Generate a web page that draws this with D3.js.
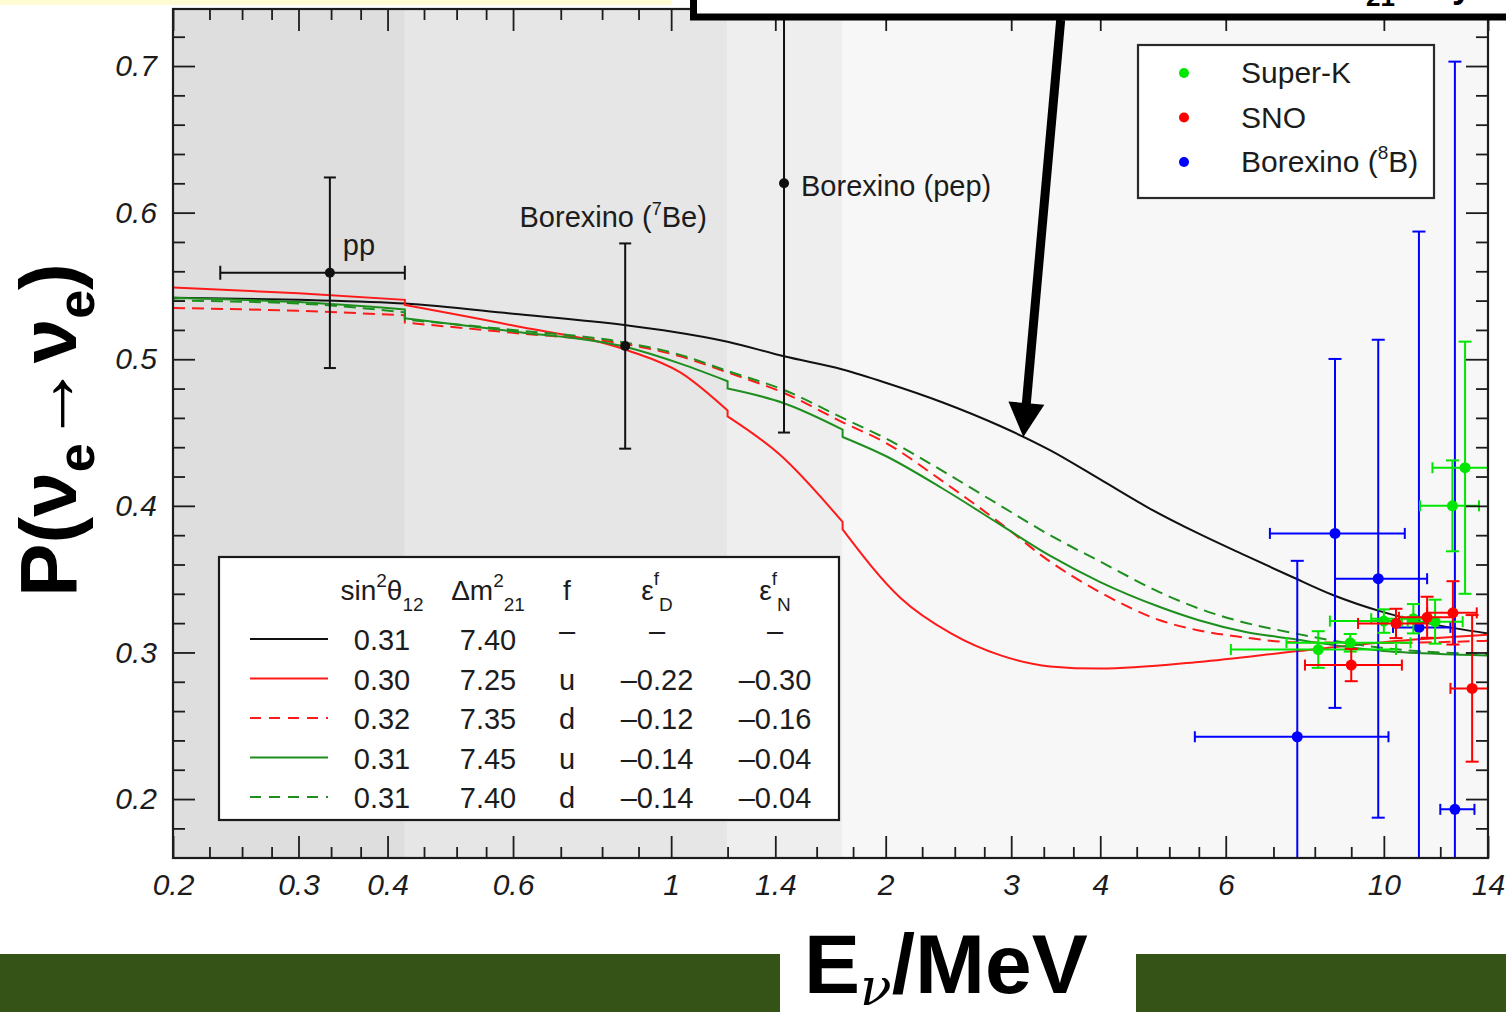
<!DOCTYPE html>
<html>
<head>
<meta charset="utf-8">
<script src="https://cdn.jsdelivr.net/npm/d3@7"></script>
<style>
  html, body { margin: 0; padding: 0; background: #ffffff; }
  svg { display: block; font-family: "Liberation Sans", Arial, Helvetica, sans-serif; }
</style>
</head>
<body>
<svg id="chart" width="1506" height="1012"></svg>
<script>
// ---------------- data ----------------
// solar-neutrino energy regions (MeV) and their shading
const bandEdges = [0.2, 0.423, 1.2, 1.74, 14];
const bandFills = ["#dedede", "#e6e6e6", "#eeeeee", "#f7f7f7"];

// axis ticks
const xMajorTicks = [0.2, 0.3, 0.4, 0.6, 1, 1.4, 2, 3, 4, 6, 10, 14];
const xMinorTicks = [0.225, 0.25, 0.275, 0.3333, 0.3667, 0.45, 0.5, 0.55, 0.7, 0.8, 0.9,
                     1.2, 1.6, 1.8, 2.25, 2.5, 2.75, 3.333, 3.667, 4.5, 5, 5.5, 7, 8, 9, 12];
const yMajorTicks = [0.2, 0.3, 0.4, 0.5, 0.6, 0.7];
const yMinorTicks = [0.18, 0.22, 0.24, 0.26, 0.28, 0.32, 0.34, 0.36, 0.38, 0.42, 0.44, 0.46,
                     0.48, 0.52, 0.54, 0.56, 0.58, 0.62, 0.64, 0.66, 0.68, 0.72];

// survival probability curves [E (MeV), P]; a repeated E marks a step
const curveStandard = [[0.2,0.542],[0.3,0.5405],[0.423,0.538],[0.6,0.531],[0.87,0.523],[1.0,0.519],
  [1.2,0.512],[1.44,0.502],[1.74,0.493],[2.0,0.484],[2.4,0.4707],[2.9,0.4543],[3.4,0.438],[4.0,0.418],
  [4.7,0.398],[5.5,0.381],[6.4,0.366],[7.4,0.352],[8.5,0.339],[9.9,0.328],[11.5,0.320],[14,0.313]];
const curveUpSolid = [[0.2,0.549],[0.3,0.545],[0.423,0.5405],[0.423,0.537],[0.6,0.523],[0.87,0.506],
  [1.03,0.491],[1.2,0.465],[1.2,0.461],[1.42,0.435],[1.74,0.389],[1.74,0.384],[2.1,0.337],[2.47,0.313],
  [2.9,0.298],[3.4,0.2905],[4.0,0.289],[5.5,0.2935],[7.6,0.301],[10,0.307],[14,0.312]];
const curveDownRed = [[0.2,0.535],[0.3,0.533],[0.423,0.530],[0.423,0.525],[0.6,0.518],[0.87,0.510],
  [1.03,0.502],[1.2,0.491],[1.44,0.477],[1.74,0.457],[2.0,0.443],[2.4,0.417],[2.9,0.388],[3.4,0.362],
  [4.0,0.341],[4.85,0.322],[5.5,0.315],[6.2,0.311],[7.5,0.307],[10,0.3065],[14,0.308]];
const curveUpGreen = [[0.2,0.542],[0.3,0.539],[0.423,0.534],[0.423,0.528],[0.6,0.519],[0.87,0.508],
  [1.03,0.497],[1.2,0.485],[1.2,0.480],[1.44,0.470],[1.74,0.452],[1.74,0.447],[2.0,0.434],[2.4,0.412],
  [2.9,0.387],[3.4,0.366],[4.0,0.348],[4.85,0.331],[5.5,0.322],[6.4,0.314],[7.5,0.309],[8.5,0.305],
  [10,0.301],[12,0.299],[14,0.298]];
const curveDownGreen = [[0.2,0.540],[0.3,0.538],[0.423,0.532],[0.423,0.527],[0.6,0.520],[0.87,0.511],
  [1.03,0.503],[1.2,0.492],[1.44,0.479],[1.74,0.460],[2.0,0.446],[2.4,0.424],[2.9,0.400],[3.4,0.380],
  [4.0,0.362],[4.85,0.341],[5.5,0.330],[6.2,0.322],[7.5,0.313],[8.5,0.308],[10,0.303],[12,0.300],[14,0.299]];

// low-energy measurements: E, P, E range, P error
const borexinoLow = [
  { name: "pp",  E: 0.332, P: 0.559, Elo: 0.233, Ehi: 0.423, err: 0.065 },
  { name: "7Be", E: 0.862, P: 0.509, Elo: null,  Ehi: null,  err: 0.070 },
  { name: "pep", E: 1.44,  P: 0.620, Elo: null,  Ehi: null,  err: 0.170 }
];
// high-energy 8B measurements: [E, P, Elo, Ehi, Perr]
const superK = [[8.09,0.302,6.1,10.4,0.0125],[8.97,0.3066,7.3,10.9,0.006],[10.0,0.3214,8.4,10.6,0.008],
  [11.0,0.323,9.6,11.6,0.010],[11.8,0.321,10.8,12.9,0.015],[12.48,0.400,11.24,13.6,0.031],
  [13.0,0.426,11.7,15,0.086]];
const sno = [[9.0,0.2914,7.75,10.6,0.011],[10.4,0.3198,9.2,11.5,0.010],[11.5,0.324,10.5,12.5,0.014],
  [12.5,0.327,11.5,13.5,0.0216],[13.3,0.2755,12.4,15,0.050]];
const borexino8B = [[7.56,0.2425,5.43,10.15,0.120],[8.54,0.3812,6.92,10.7,0.119],
  [9.82,0.3503,8.54,11.5,0.163],[11.2,0.3171,10.3,12.4,0.270],[12.58,0.193,12.0,13.4,0.510]];

// fit-parameter table
const rowSin2  = ["0.31", "0.30", "0.32", "0.31", "0.31"];
const rowDm2   = ["7.40", "7.25", "7.35", "7.45", "7.40"];
const rowF     = ["–", "u", "d", "u", "d"];
const rowEpsD  = ["–", "–0.22", "–0.12", "–0.14", "–0.14"];
const rowEpsN  = ["–", "–0.30", "–0.16", "–0.04", "–0.04"];

const legendNames = ["Super-K", "SNO", "Borexino"];

// ---------------- layout ----------------
const svg = d3.select("#chart");
const plot = { left: 173, right: 1488, top: 9, bottom: 858 };
const x = d3.scaleLog().domain([0.2, 14]).range([plot.left, plot.right]);
const y = d3.scaleLinear().domain([0.1598, 0.7389]).range([plot.bottom, plot.top]);

const INK = "#1c1c1c";
const curveStyles = [
  { data: curveStandard,  color: "#111111", dash: null },
  { data: curveUpSolid,   color: "#ff1a1a", dash: null },
  { data: curveDownRed,   color: "#ff1a1a", dash: "12,7" },
  { data: curveUpGreen,   color: "#1e8f1e", dash: null },
  { data: curveDownGreen, color: "#1e8f1e", dash: "12,7" }
];

// page decorations
svg.append("rect").attr("x", 0).attr("y", 0).attr("width", 1506).attr("height", 1012).attr("fill", "#ffffff");
svg.append("rect").attr("x", 0).attr("y", 0).attr("width", 672).attr("height", 5).attr("fill", "#fffbd2");
svg.append("rect").attr("x", 0).attr("y", 954).attr("width", 780).attr("height", 58).attr("fill", "#355316");
svg.append("rect").attr("x", 1136).attr("y", 954).attr("width", 370).attr("height", 58).attr("fill", "#355316");

const defs = svg.append("defs");
defs.append("clipPath").attr("id", "plotClip").append("rect")
  .attr("x", plot.left).attr("y", plot.top)
  .attr("width", plot.right - plot.left).attr("height", plot.bottom - plot.top);

// shaded energy regions
svg.append("g").selectAll("rect").data(d3.pairs(bandEdges)).join("rect")
  .attr("x", d => x(d[0])).attr("y", plot.top)
  .attr("width", d => x(d[1]) - x(d[0])).attr("height", plot.bottom - plot.top)
  .attr("fill", (d, i) => bandFills[i]);

// curves: each step-free run is smoothed, runs are joined by vertical steps
const line = d3.line().x(d => x(d[0])).y(d => y(d[1])).curve(d3.curveMonotoneX);
function steppedPath(pts) {
  const runs = [[pts[0]]];
  for (let i = 1; i < pts.length; i++) {
    if (pts[i][0] === pts[i - 1][0]) runs.push([pts[i]]);
    else runs[runs.length - 1].push(pts[i]);
  }
  return runs.map((r, i) => { const d = line(r); return i ? d.replace(/^M/, "L") : d; }).join("");
}
const gCurves = svg.append("g").attr("clip-path", "url(#plotClip)");
curveStyles.forEach(c => {
  gCurves.append("path").attr("d", steppedPath(c.data))
    .attr("fill", "none").attr("stroke", c.color).attr("stroke-width", 2)
    .attr("stroke-dasharray", c.dash);
});

// error bars
const gData = svg.append("g").attr("clip-path", "url(#plotClip)");
function errorBar(g, E, P, Elo, Ehi, err, color, capV, capH, r) {
  const cx = x(E), cy = y(P);
  const b = g.append("g").attr("stroke", color).attr("stroke-width", 2).attr("fill", "none");
  const yt = y(P + err), yb = y(P - err);
  b.append("line").attr("x1", cx).attr("x2", cx).attr("y1", yt).attr("y2", yb);
  b.append("line").attr("x1", cx - capV).attr("x2", cx + capV).attr("y1", yt).attr("y2", yt);
  b.append("line").attr("x1", cx - capV).attr("x2", cx + capV).attr("y1", yb).attr("y2", yb);
  if (Elo != null) {
    const xl = x(Elo), xr = x(Ehi);
    b.append("line").attr("x1", xl).attr("x2", xr).attr("y1", cy).attr("y2", cy);
    b.append("line").attr("x1", xl).attr("x2", xl).attr("y1", cy - capH).attr("y2", cy + capH);
    b.append("line").attr("x1", xr).attr("x2", xr).attr("y1", cy - capH).attr("y2", cy + capH);
  }
  g.append("circle").attr("cx", cx).attr("cy", cy).attr("r", r).attr("fill", color);
}
borexinoLow.forEach(d => errorBar(gData, d.E, d.P, d.Elo, d.Ehi, d.err, "#111111", 6, 7, 5));
borexino8B.forEach(d => errorBar(gData, d[0], d[1], d[2], d[3], d[4], "#0000ff", 6.5, 5.5, 5.5));
superK.forEach(d => errorBar(gData, d[0], d[1], d[2], d[3], d[4], "#00e600", 6.5, 5.5, 5.5));
sno.forEach(d => errorBar(gData, d[0], d[1], d[2], d[3], d[4], "#ff0000", 6.5, 5.5, 5.5));

// labels of the low-energy points
const labelFont = 29;
const pp = borexinoLow[0], be7 = borexinoLow[1], pep = borexinoLow[2];
svg.append("text").attr("x", x(pp.E) + 13).attr("y", y(pp.P) - 18)
  .attr("font-size", labelFont).attr("fill", INK).text("pp");
const tBe = svg.append("text").attr("x", x(be7.E) - 12).attr("y", y(be7.P + be7.err) - 16)
  .attr("text-anchor", "middle").attr("font-size", labelFont).attr("fill", INK);
tBe.append("tspan").text("Borexino (");
tBe.append("tspan").attr("font-size", 18).attr("dy", -12).text("7");
tBe.append("tspan").attr("dy", 12).text("Be)");
svg.append("text").attr("x", x(pep.E) + 17).attr("y", y(pep.P) + 13)
  .attr("font-size", labelFont).attr("fill", INK).text("Borexino (pep)");

// axes: inward major and minor ticks on all four sides
function styleAxis(g) {
  g.select(".domain").remove();
  g.selectAll(".tick line").attr("stroke", INK).attr("stroke-width", 1.8);
  g.selectAll(".tick text").attr("font-size", 30).attr("font-style", "italic")
    .attr("fill", INK).attr("font-family", "'Liberation Sans', Arial, sans-serif");
}
const noLabel = () => "";
svg.append("g").attr("transform", `translate(0,${plot.bottom})`)
  .call(d3.axisBottom(x).tickValues(xMajorTicks).tickSize(-22).tickPadding(16).tickFormat(d => String(d)))
  .call(styleAxis);
svg.append("g").attr("transform", `translate(0,${plot.bottom})`)
  .call(d3.axisBottom(x).tickValues(xMinorTicks).tickSize(-11).tickFormat(noLabel)).call(styleAxis);
svg.append("g").attr("transform", `translate(0,${plot.top})`)
  .call(d3.axisTop(x).tickValues(xMajorTicks).tickSize(-22).tickFormat(noLabel)).call(styleAxis);
svg.append("g").attr("transform", `translate(0,${plot.top})`)
  .call(d3.axisTop(x).tickValues(xMinorTicks).tickSize(-11).tickFormat(noLabel)).call(styleAxis);
svg.append("g").attr("transform", `translate(${plot.left},0)`)
  .call(d3.axisLeft(y).tickValues(yMajorTicks).tickSize(-22).tickPadding(16).tickFormat(d => d.toFixed(1)))
  .call(styleAxis);
svg.append("g").attr("transform", `translate(${plot.left},0)`)
  .call(d3.axisLeft(y).tickValues(yMinorTicks).tickSize(-12).tickFormat(noLabel)).call(styleAxis);
svg.append("g").attr("transform", `translate(${plot.right},0)`)
  .call(d3.axisRight(y).tickValues(yMajorTicks).tickSize(-22).tickFormat(noLabel)).call(styleAxis);
svg.append("g").attr("transform", `translate(${plot.right},0)`)
  .call(d3.axisRight(y).tickValues(yMinorTicks).tickSize(-12).tickFormat(noLabel)).call(styleAxis);
svg.append("rect").attr("x", plot.left).attr("y", plot.top)
  .attr("width", plot.right - plot.left).attr("height", plot.bottom - plot.top)
  .attr("fill", "none").attr("stroke", INK).attr("stroke-width", 2.2);

// experiment legend
const leg = svg.append("g");
leg.append("rect").attr("x", 1138).attr("y", 45).attr("width", 296).attr("height", 153)
  .attr("fill", "#ffffff").attr("stroke", "#2a2a2a").attr("stroke-width", 2.2);
const legColors = ["#00e600", "#ff0000", "#0000ff"];
legendNames.forEach((n, i) => {
  const cy = 73 + i * 44.5;
  leg.append("circle").attr("cx", 1184).attr("cy", cy).attr("r", 5).attr("fill", legColors[i]);
  const t = leg.append("text").attr("x", 1241).attr("y", cy + 10).attr("font-size", 30).attr("fill", INK);
  t.append("tspan").text(n);
  if (n === "Borexino") {
    t.append("tspan").text(" (");
    t.append("tspan").attr("font-size", 19).attr("dy", -13).text("8");
    t.append("tspan").attr("dy", 13).text("B)");
  }
});

// fit-parameter table legend
const tab = svg.append("g");
tab.append("rect").attr("x", 219).attr("y", 557).attr("width", 620).attr("height", 263)
  .attr("fill", "#ffffff").attr("stroke", "#1a1a1a").attr("stroke-width", 2.2);
const colX = [382, 488, 567, 657, 775];
const hdr = (cx, parts) => {
  const t = tab.append("text").attr("x", cx).attr("y", 600).attr("text-anchor", "middle")
    .attr("font-size", 28).attr("fill", INK);
  parts.forEach(p => t.append("tspan").attr("font-size", p[1] || null).attr("dy", p[2] || null).text(p[0]));
};
hdr(colX[0], [["sin"], ["2", 19, -13], ["θ", null, 13], ["12", 19, 11]]);
hdr(colX[1], [["Δm"], ["2", 19, -13], ["21", 19, 24]]);
hdr(colX[2], [["f"]]);
hdr(colX[3], [["ε"], ["f", 19, -15], ["D", 19, 26]]);
hdr(colX[4], [["ε"], ["f", 19, -15], ["N", 19, 26]]);
const cols = [rowSin2, rowDm2, rowF, rowEpsD, rowEpsN];
curveStyles.forEach((c, i) => {
  const ly = 639 + i * 39.5;
  tab.append("line").attr("x1", 250).attr("x2", 328).attr("y1", ly).attr("y2", ly)
    .attr("stroke", c.color).attr("stroke-width", 2).attr("stroke-dasharray", c.dash ? "11,8" : null);
  cols.forEach((col, j) => {
    const v = col[i];
    tab.append("text").attr("x", colX[j]).attr("y", v === "–" ? ly + 2 : ly + 11)
      .attr("text-anchor", "middle").attr("font-size", 29).attr("fill", INK).text(v);
  });
});

// axis titles
const yl = svg.append("text").attr("transform", "translate(76,430) rotate(-90)")
  .attr("text-anchor", "middle").attr("font-size", 80).attr("font-weight", "bold").attr("fill", "#000");
yl.append("tspan").text("P(ν");
yl.append("tspan").attr("font-size", 52).attr("dy", 18).text("e");
yl.append("tspan").attr("dy", -18).text("→ν");
yl.append("tspan").attr("font-size", 52).attr("dy", 18).text("e");
yl.append("tspan").attr("dy", -18).text(")");

const xl = svg.append("text").attr("x", 804).attr("y", 993)
  .attr("font-size", 84).attr("font-weight", "bold").attr("fill", "#000");
xl.append("tspan").text("E");
xl.append("tspan").attr("font-size", 52).attr("dy", 12).attr("font-weight", "normal")
  .attr("font-family", "'DejaVu Serif', serif").attr("font-style", "italic").text("ν");
xl.append("tspan").attr("dy", -12).text("/MeV");

// annotation box along the top edge and its arrow onto the standard curve
svg.append("rect").attr("x", 693.5).attr("y", -30).attr("width", 900).attr("height", 47)
  .attr("fill", "#ffffff").attr("stroke", "#000").attr("stroke-width", 7);
svg.append("text").attr("x", 1366).attr("y", 6).attr("font-size", 26).attr("font-weight", "bold").text("21");
svg.append("text").attr("x", 1472).attr("y", -3).attr("text-anchor", "end")
  .attr("font-size", 36).attr("font-weight", "bold").text("only");

const tipE = 3.12, tipP = 0.447, tailE = 3.52, tailP = 0.7314;
const tx = x(tipE), ty = y(tipP), sx = x(tailE), sy = y(tailP);
const ang = Math.atan2(ty - sy, tx - sx);
const headLen = 34, headHalf = 18;
const bx = tx - headLen * Math.cos(ang), by = ty - headLen * Math.sin(ang);
svg.append("line").attr("x1", sx).attr("y1", sy).attr("x2", bx + 2 * Math.cos(ang)).attr("y2", by + 2 * Math.sin(ang))
  .attr("stroke", "#000").attr("stroke-width", 9);
svg.append("path")
  .attr("d", `M${tx},${ty}L${bx - headHalf * Math.sin(ang)},${by + headHalf * Math.cos(ang)}` +
             `L${bx + headHalf * Math.sin(ang)},${by - headHalf * Math.cos(ang)}Z`)
  .attr("fill", "#000");
</script>
</body>
</html>
